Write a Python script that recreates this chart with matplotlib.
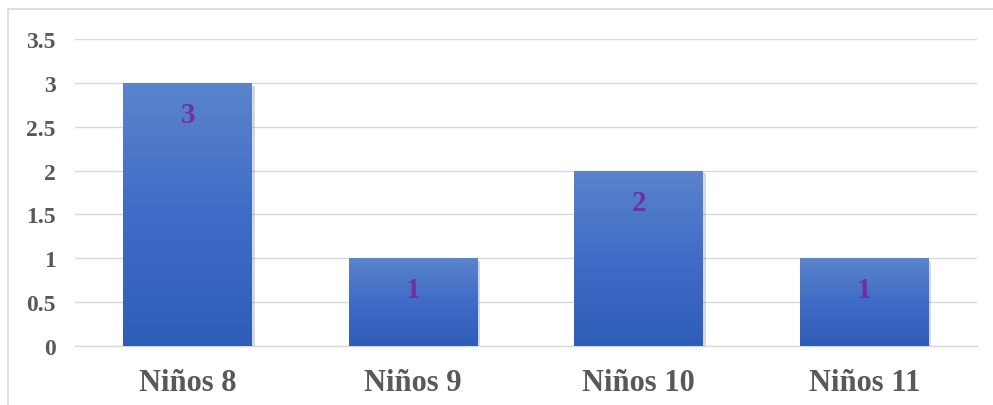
import numpy as np
import matplotlib.pyplot as plt
import matplotlib.patheffects as pe
from matplotlib.colors import LinearSegmentedColormap
from matplotlib.patches import Rectangle

categories = ["Niños 8", "Niños 9", "Niños 10", "Niños 11"]
values = [3, 1, 2, 1]
yticks = [0, 0.5, 1, 1.5, 2, 2.5, 3, 3.5]

plt.rcParams['font.family'] = ['Liberation Serif', 'DejaVu Serif']

fig = plt.figure(figsize=(9.93, 4.06), dpi=100)
ax = fig.add_axes([75 / 993, 59 / 406, 902 / 993, 307 / 406])

# chart border (cut off at right and bottom like the reference)
fig.patches.append(Rectangle((8 / 993, -0.1), 1.2, 1 - 10 / 406 + 0.1,
                             transform=fig.transFigure, fill=False,
                             edgecolor="#D9D9D9", linewidth=1.2))

x = np.arange(len(categories))
bars = ax.bar(x, values, width=0.57, color="#4472C4", zorder=2,
              path_effects=[pe.SimplePatchShadow(offset=(2, -2), alpha=0.3,
                                                 shadow_rgbFace="#7f7f7f"),
                            pe.Normal()])

cmap = LinearSegmentedColormap.from_list("grad", ["#2E5DB8", "#3F6CC6", "#5B84CD"])
grad = np.linspace(0, 1, 256).reshape(-1, 1)
for b in bars:
    x0, w, h = b.get_x(), b.get_width(), b.get_height()
    im = ax.imshow(grad, cmap=cmap, aspect="auto", origin="lower",
                   extent=[x0, x0 + w, 0, h], zorder=3)
    im.set_clip_path(b)
    ax.text(x0 + w / 2, h - 0.36, str(int(h)), ha="center", va="center",
            fontsize=21, fontweight="bold", color="#7030A0", zorder=4)

ax.set_xlim(-0.5, len(categories) - 0.5)
ax.set_ylim(0, 3.5)
ax.set_yticks(yticks)
ax.set_yticklabels([f"{t:g}" for t in yticks])
ax.set_xticks(x)
ax.set_xticklabels(categories)

ax.yaxis.grid(True, color="#D9D9D9", linewidth=1.0, zorder=0)
ax.set_axisbelow(True)
for s in ["top", "right", "left"]:
    ax.spines[s].set_visible(False)
ax.spines["bottom"].set_color("#D9D9D9")
ax.spines["bottom"].set_linewidth(1.0)

ax.tick_params(axis="y", length=0, pad=14, labelsize=17, labelcolor="#595959")
ax.tick_params(axis="x", length=0, pad=16, labelsize=22, labelcolor="#595959")
for lab in ax.get_xticklabels() + ax.get_yticklabels():
    lab.set_fontweight("bold")

fig.savefig("out.png", dpi=100)
